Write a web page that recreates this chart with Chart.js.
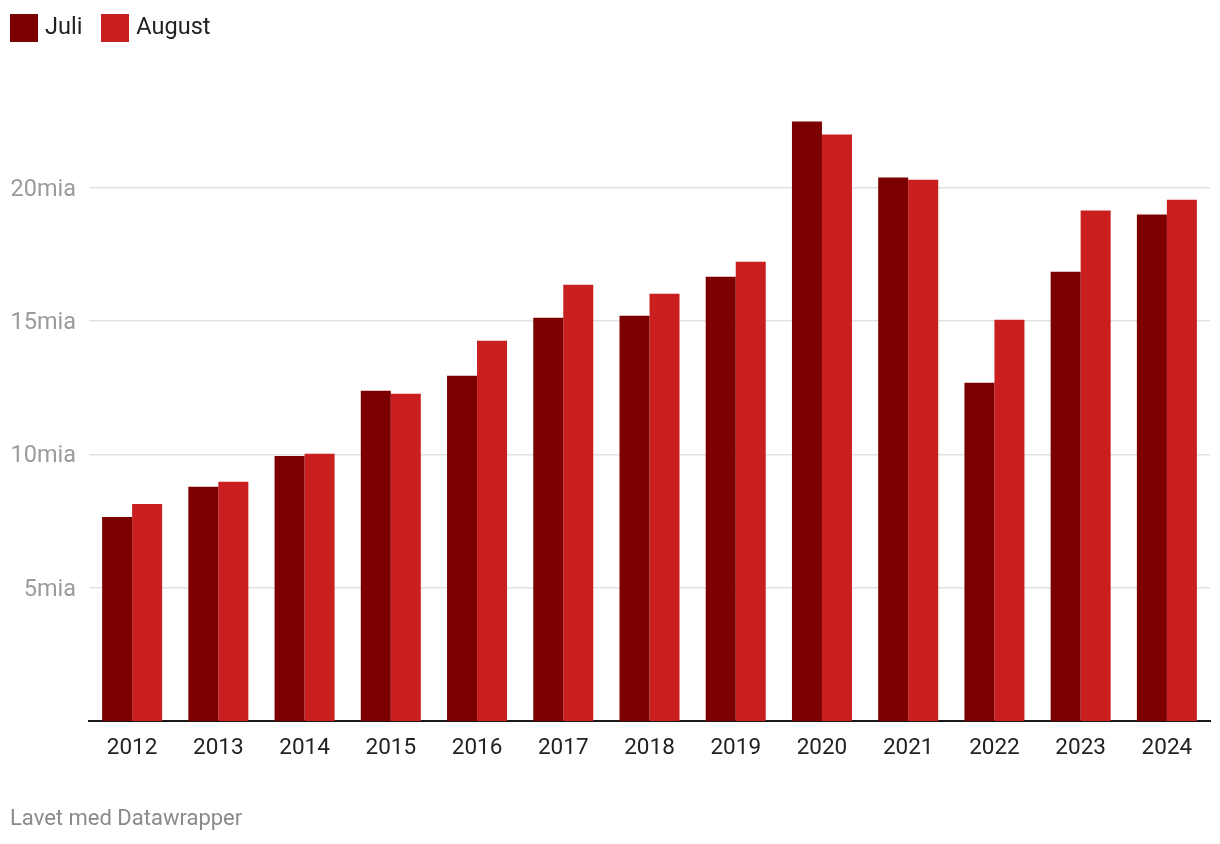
<!DOCTYPE html>
<html>
<head>
<meta charset="utf-8">
<script src="https://cdn.jsdelivr.net/npm/chart.js@4.4.1/dist/chart.umd.min.js"></script>
<style>
  html, body { margin: 0; padding: 0; background: #fff; }
  body { width: 1220px; height: 844px; position: relative; overflow: hidden; font-family: Roboto, "Noto Sans", sans-serif; }
  #wrap { position: absolute; left: 0; top: 0; width: 1220px; height: 844px; }
  #legend { position: absolute; left: 10px; top: 14px; display: flex; align-items: center; font-size: 23.5px; color: #222; line-height: 28px; }
  .item { display: flex; align-items: center; margin-right: 19px; }
  .item span { position: relative; top: -2px; }
  .sw { width: 28px; height: 28px; margin-right: 7px; }
  #footer { position: absolute; left: 10px; top: 805px; font-size: 22px; color: #8a8a8a; line-height: 26px; }
</style>
</head>
<body>
<div id="wrap"><canvas id="c" width="1220" height="844"></canvas></div>
<div id="legend"></div>
<div id="footer">Lavet med Datawrapper</div>
<script>
const categories = ["2012","2013","2014","2015","2016","2017","2018","2019","2020","2021","2022","2023","2024"];
const seriesNames = ["Juli", "August"];
const juli   = [7.65, 8.78, 9.94, 12.38, 12.95, 15.12, 15.20, 16.66, 22.48, 20.38, 12.68, 16.85, 18.99];
const august = [8.14, 8.97, 10.02, 12.27, 14.26, 16.36, 16.02, 17.22, 21.99, 20.30, 15.05, 19.14, 19.55];
const yTicks = [5, 10, 15, 20];
const colors = ["#7d0000", "#c91f1f"];

const legend = document.getElementById('legend');
seriesNames.forEach((n, i) => {
  const it = document.createElement('div'); it.className = 'item';
  const sw = document.createElement('div'); sw.className = 'sw'; sw.style.background = colors[i];
  const tx = document.createElement('span'); tx.textContent = n;
  it.appendChild(sw); it.appendChild(tx); legend.appendChild(it);
});

new Chart(document.getElementById('c'), {
  type: 'bar',
  data: {
    labels: categories,
    datasets: [
      { label: seriesNames[0], data: juli, backgroundColor: colors[0], categoryPercentage: 0.696, barPercentage: 1.0, borderWidth: 0 },
      { label: seriesNames[1], data: august, backgroundColor: colors[1], categoryPercentage: 0.696, barPercentage: 1.0, borderWidth: 0 }
    ]
  },
  options: {
    responsive: false,
    devicePixelRatio: 1,
    animation: false,
    layout: { padding: { left: 0, right: 10, top: 81, bottom: 83 } },
    plugins: { legend: { display: false }, tooltip: { enabled: false } },
    scales: {
      x: {
        grid: { display: false },
        border: { display: true, color: '#1a1a1a', width: 2 },
        ticks: { color: '#222', font: { family: 'Roboto', size: 22.5 }, padding: 6, maxRotation: 0 },
        afterFit: (s) => { s.height = 40; }
      },
      y: {
        min: 0, max: 24,
        afterBuildTicks: (s) => { s.ticks = yTicks.map(v => ({ value: v })); },
        grid: { color: '#e2e2e2', lineWidth: 1.5, drawTicks: false },
        border: { display: false },
        ticks: { color: '#9b9b9b', font: { family: 'Roboto', size: 23.5 }, padding: 13, labelOffset: 2, callback: (v) => v + 'mia' },
        afterFit: (s) => { s.width = 89; }
      }
    }
  }
});
</script>
</body>
</html>
